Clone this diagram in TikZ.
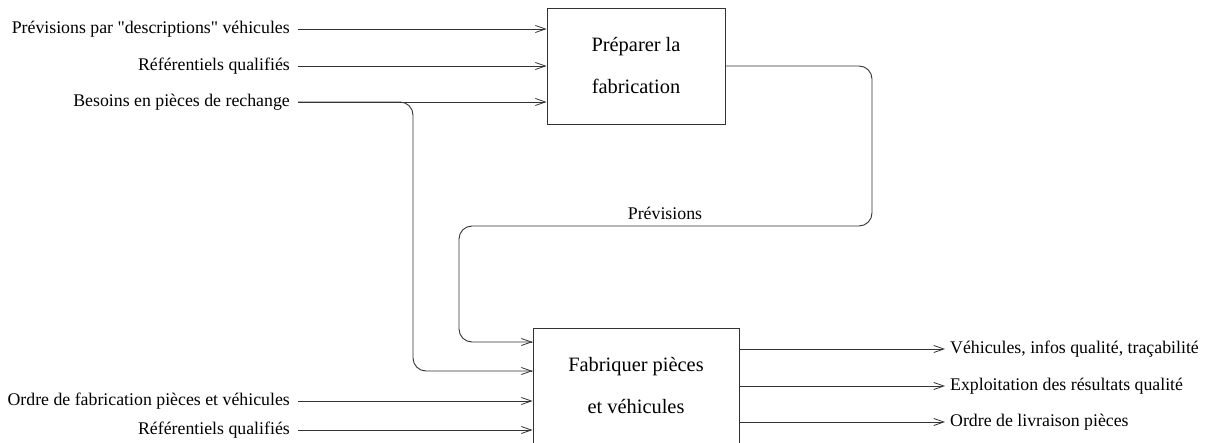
\documentclass[tikz,border=0pt]{standalone}
\usepackage{fontspec}
\setmainfont{Liberation Serif}[Ligatures=TeXOff]
\usetikzlibrary{arrows.meta}
\begin{document}
\begin{tikzpicture}[x=1pt,y=-1pt,
  flow/.style={line width=0.9pt, draw=black!80, -{Straight Barb[length=10pt,width=7pt,line width=0.8pt]}},
  link/.style={line width=0.9pt, draw=black!80, rounded corners=13pt},
  activity/.style={draw=black!80, line width=0.9pt, align=center, font=\fontsize{20.4}{42}\selectfont, inner sep=0pt},
  small/.style={font=\fontsize{17.8}{19}\selectfont},
  inlabel/.style={small, anchor=east, inner xsep=8pt, inner ysep=1pt},
  outlabel/.style={small, anchor=west, inner xsep=5pt, inner ysep=1pt}]
\useasboundingbox (0,0) rectangle (1208,443);
\clip (0,0) rectangle (1208,443);

% activity boxes
\node[activity, minimum width=178pt, minimum height=116pt] (prep) at (636,66) {Préparer la\\fabrication};
\node[activity, minimum width=206pt, minimum height=116pt] (fab) at (636,386) {Fabriquer pièces\\et véhicules};

% inputs of the first activity
\node[inlabel] (i1) at (298,29) {Prévisions par "descriptions" véhicules};
\node[inlabel] (i2) at (298,66) {Référentiels qualifiés};
\node[inlabel] (i3) at (298,102) {Besoins en pièces de rechange};
\draw[flow] (i1.east) -- (i1.east -| prep.west);
\draw[flow] (i2.east) -- (i2.east -| prep.west);
\draw[flow] (i3.east) -- (i3.east -| prep.west);

% inputs of the second activity
\node[inlabel] (j1) at (298,401) {Ordre de fabrication pièces et véhicules};
\node[inlabel] (j2) at (298,430) {Référentiels qualifiés};
\draw[flow] (j1.east) -- (j1.east -| fab.west);
\draw[flow] (j2.east) -- (j2.east -| fab.west);

% spare-part needs also feed the second activity
\coordinate (spare) at (413,371);
\draw[link] (i3.east) -- (i3.east -| spare) -- (spare) -- (spare -| fab.west);
\draw[flow] ([xshift=-2pt]spare -| fab.west) -- (spare -| fab.west);

% forecasts from the first activity to the second
\coordinate (fr) at (872,226);
\coordinate (fl) at (459,342);
\draw[link] (prep.east) -- (prep.east -| fr) -- (fr) -- (fr -| fl) -- (fl) -- (fl -| fab.west);
\draw[flow] ([xshift=-2pt]fl -| fab.west) -- (fl -| fab.west);
\node[small] (prev) at (665,213) {Prévisions};

% outputs of the second activity
\node[outlabel] (o1) at (945,349) {Véhicules, infos qualité, traçabilité};
\node[outlabel] (o2) at (945,386) {Exploitation des résultats qualité};
\node[outlabel] (o3) at (945,422) {Ordre de livraison pièces};
\draw[flow] (o1.west -| fab.east) -- (o1.west);
\draw[flow] (o2.west -| fab.east) -- (o2.west);
\draw[flow] (o3.west -| fab.east) -- (o3.west);
\end{tikzpicture}
\end{document}
